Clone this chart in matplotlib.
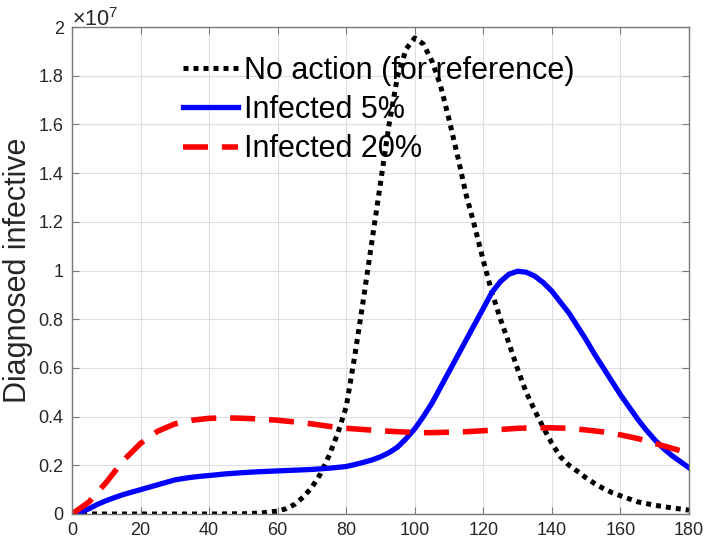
import matplotlib
matplotlib.use('Agg')
import matplotlib.pyplot as plt
from matplotlib.ticker import FuncFormatter, MultipleLocator

plt.rcParams['font.family'] = ['Liberation Sans', 'DejaVu Sans']
plt.rcParams['mathtext.fontset'] = 'custom'
plt.rcParams['mathtext.rm'] = 'Liberation Sans'
plt.rcParams['mathtext.it'] = 'Liberation Sans'

# data (values in units of 1e7)
scale = 1e7

days_none = [0, 10, 20, 30, 40, 50, 55, 60, 62.5, 65, 67.5, 70, 72.5, 75, 77.5, 80,
             82.5, 85, 87.5, 90, 92.5, 95, 97.5, 100, 102.5, 105, 107.5, 110, 112.5,
             115, 117.5, 120, 122.5, 125, 127.5, 130, 132.5, 135, 137.5, 140, 142.5,
             145, 147.5, 150, 152.5, 155, 157.5, 160, 165, 170, 175, 180]
no_action = [0, 0, 0, 0, 0, 0.001, 0.004, 0.012, 0.022, 0.04, 0.07, 0.11, 0.165, 0.24,
             0.33, 0.44, 0.65, 0.88, 1.12, 1.36, 1.6, 1.8, 1.91, 1.955, 1.93, 1.86,
             1.76, 1.62, 1.47, 1.31, 1.18, 1.04, 0.91, 0.8, 0.7, 0.595, 0.5, 0.425,
             0.355, 0.29, 0.235, 0.2, 0.175, 0.148, 0.125, 0.105, 0.088, 0.075, 0.05,
             0.036, 0.025, 0.016]

days_5 = [0, 2.5, 5, 7.5, 10, 12.5, 15, 17.5, 20, 22.5, 25, 27.5, 30, 32.5, 35, 37.5,
          40, 45, 50, 55, 60, 65, 70, 75, 80, 82.5, 85, 87.5, 90, 92.5, 95, 97.5, 100,
          102.5, 105, 107.5, 110, 112.5, 115, 117.5, 120, 122.5, 125, 127.5, 130,
          132.5, 135, 137.5, 140, 142.5, 145, 147.5, 150, 152.5, 155, 157.5, 160,
          162.5, 165, 167.5, 170, 172.5, 175, 177.5, 180]
infected_5 = [0, 0.008, 0.022, 0.04, 0.055, 0.068, 0.08, 0.09, 0.1, 0.11, 0.12, 0.13,
              0.14, 0.146, 0.151, 0.155, 0.158, 0.165, 0.17, 0.174, 0.177, 0.18, 0.183,
              0.188, 0.195, 0.203, 0.212, 0.222, 0.235, 0.252, 0.275, 0.31, 0.35, 0.4,
              0.455, 0.52, 0.585, 0.65, 0.715, 0.78, 0.845, 0.91, 0.955, 0.985, 0.997,
              0.993, 0.977, 0.95, 0.915, 0.87, 0.825, 0.77, 0.715, 0.655, 0.6, 0.545,
              0.49, 0.44, 0.39, 0.345, 0.305, 0.27, 0.24, 0.215, 0.19]

days_20 = [0, 5, 10, 15, 20, 25, 30, 35, 40, 45, 50, 55, 60, 65, 70, 75, 80, 85, 90,
           95, 100, 105, 110, 115, 120, 125, 130, 135, 140, 145, 150, 155, 160, 165,
           170, 175, 180]
infected_20 = [0, 0.05, 0.13, 0.22, 0.29, 0.34, 0.37, 0.385, 0.393, 0.395, 0.393, 0.39,
               0.385, 0.378, 0.37, 0.36, 0.352, 0.347, 0.342, 0.338, 0.335, 0.334,
               0.336, 0.338, 0.342, 0.347, 0.352, 0.354, 0.354, 0.352, 0.345, 0.337,
               0.325, 0.31, 0.29, 0.27, 0.25]

labels = ['No action (for reference)', 'Infected 5%', 'Infected 20%']

fig = plt.figure(figsize=(7.08, 5.44), dpi=100)
ax = fig.add_axes([72/708, 30/544, 617/708, 487/544])

ax.plot(days_none, [v*scale for v in no_action], color='black', lw=3.6,
        linestyle=(0, (1, 1)), label=labels[0])
ax.plot(days_5, [v*scale for v in infected_5], color='#0000ff', lw=3.8,
        label=labels[1])
ax.plot(days_20, [v*scale for v in infected_20], color='#ff0000', lw=4,
        linestyle=(0, (4.5, 2.5)), label=labels[2])

ax.set_xlim(0, 180)
ax.set_ylim(0, 2e7)
ax.xaxis.set_major_locator(MultipleLocator(20))
ax.yaxis.set_major_locator(MultipleLocator(0.2e7))
ax.yaxis.set_major_formatter(FuncFormatter(lambda v, p: '%g' % round(v/scale, 2)))

ax.grid(True, color='#dedede', lw=0.8)
ax.set_axisbelow(True)
for s in ax.spines.values():
    s.set_color('#7a7a7a')
    s.set_linewidth(1)
ax.tick_params(direction='in', length=5, top=True, right=True, colors='#7a7a7a',
               labelcolor='#262626', labelsize=13, pad=6)

ax.set_ylabel('Diagnosed infective', fontsize=22, color='#262626', labelpad=4)
fig.text(72/708, 1 - 26/544, r'$\times10^{7}$', fontsize=15.5, color='#262626')

ax.legend(loc='upper left', bbox_to_anchor=(183/708, 1 - 56/544),
          bbox_transform=fig.transFigure, frameon=False, fontsize=22,
          handlelength=1.8, handletextpad=0.2, labelspacing=0.3,
          borderpad=0, borderaxespad=0)

fig.savefig('out.png', dpi=100)
